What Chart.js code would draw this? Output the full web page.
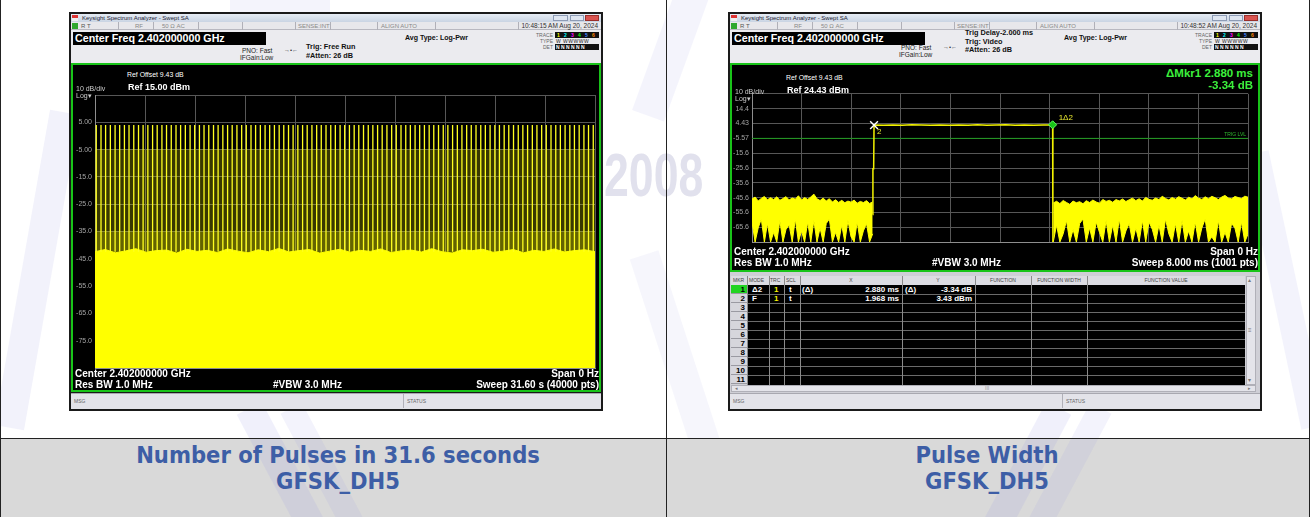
<!DOCTYPE html>
<html>
<head>
<meta charset="utf-8">
<title>GFSK_DH5 pulse captures</title>
<script src="https://cdn.jsdelivr.net/npm/chart.js@4.4.1/dist/chart.umd.min.js"></script>
<style>
  html, body { margin: 0; padding: 0; }
  body { width: 1310px; height: 517px; position: relative; overflow: hidden; background: #fff;
         font-family: "Liberation Sans", Arial, sans-serif; }
  .abs { position: absolute; white-space: nowrap; }
  .box { position: absolute; box-sizing: border-box; }
  canvas { position: absolute; }
  .cap { position: absolute; text-align: center; font-family: "DejaVu Sans Condensed", "Liberation Sans Narrow", sans-serif;
         font-weight: bold; font-size: 23.5px; line-height: 26px; color: #3d5ea6; }
</style>
</head>
<body>
<script>
// ---------- left capture: number of pulses in 31.6 s ----------
var sweepL = 31.6;
var xTicksL = [0, 3.16, 6.32, 9.48, 12.64, 15.8, 18.96, 22.12, 25.28, 28.44, 31.6];
var yTicksL = [-85, -75, -65, -55, -45, -35, -25, -15, -5, 5, 15];
var yLabelsL = ['', '-75.0', '-65.0', '-55.0', '-45.0', '-35.0', '-25.0', '-15.0', '-5.00', '5.00', ''];
var pulseTimesL = [
  0.08, 0.38, 0.67, 0.97, 1.27, 1.56, 1.86, 2.15, 2.45, 2.75,
  3.04, 3.34, 3.64, 3.93, 4.23, 4.52, 4.82, 5.12, 5.41, 5.71,
  6.01, 6.30, 6.60, 6.89, 7.19, 7.49, 7.78, 8.08, 8.38, 8.67,
  8.97, 9.27, 9.56, 9.86, 10.15, 10.45, 10.75, 11.04, 11.34, 11.64,
  11.93, 12.23, 12.52, 12.82, 13.12, 13.41, 13.71, 14.01, 14.30, 14.60,
  14.90, 15.19, 15.49, 15.78, 16.08, 16.38, 16.67, 16.97, 17.27, 17.56,
  17.86, 18.15, 18.45, 18.75, 19.04, 19.34, 19.64, 19.93, 20.23, 20.52,
  20.82, 21.12, 21.41, 21.71, 22.01, 22.30, 22.60, 22.90, 23.19, 23.49,
  23.78, 24.08, 24.38, 24.67, 24.97, 25.27, 25.56, 25.86, 26.15, 26.45,
  26.75, 27.04, 27.34, 27.64, 27.93, 28.23, 28.52, 28.82, 29.12, 29.41,
  29.71, 30.01, 30.30, 30.60, 30.90, 31.19, 31.49
];
var pulsePeakL = 4.0;
var floorL = [
  -42.4, -41.6, -42.8, -42.1, -41.3, -42.6, -42.0, -41.8, -42.9, -41.5,
  -42.3, -41.9, -42.7, -41.4, -42.2, -42.8, -41.7, -42.4, -41.2, -42.5,
  -42.0, -41.6, -42.9, -42.2, -41.5, -42.6, -41.9, -42.3, -41.4, -42.7,
  -42.1, -41.8, -42.5, -41.3, -42.4, -42.9, -41.7, -42.0, -41.5, -42.6,
  -42.2, -41.6, -42.8, -41.9, -42.3, -41.4, -42.5, -42.0, -41.7, -42.4
];
var denseTopL = -35;   // band of densely packed sub-peaks
var hazeTopL = -5;     // upper edge of the olive haze between pulses

// ---------- right capture: pulse width, 8 ms sweep ----------
var sweepR = 8.0;
var xTicksR = [0, 0.8, 1.6, 2.4, 3.2, 4.0, 4.8, 5.6, 6.4, 7.2, 8.0];
var yTicksR = [-75.57, -65.57, -55.57, -45.57, -35.57, -25.57, -15.57, -5.57, 4.43, 14.43, 24.43];
var yLabelsR = ['', '-65.6', '-55.6', '-45.6', '-35.6', '-25.6', '-15.6', '-5.57', '4.43', '14.4', ''];
var noise1Span = [0, 1.946];
var noise1Upper = [
  -46.5, -45.2, -47.8, -46.1, -44.8, -47.0, -45.6, -46.9, -45.0, -47.4,
  -46.2, -44.9, -47.1, -45.8, -46.6, -44.3, -47.2, -45.5, -46.8, -45.1,
  -43.2, -46.4, -47.5, -45.9, -47.8, -46.3, -48.5, -47.0, -48.8, -47.4,
  -49.0, -47.9, -48.6, -47.2, -49.3, -48.1, -48.9, -47.6, -49.5, -48.4
];
var noise1Lower = [
  -62, -75.5, -66, -60, -75.5, -63, -75.5, -69, -75.5, -61,
  -75.5, -67, -64, -75.5, -60, -75.5, -68, -75.5, -62, -75.5,
  -61, -75.5, -66, -75.5, -63, -60, -75.5, -69, -75.5, -64,
  -75.5, -61, -72, -75.5, -62, -75.5, -68, -63, -75.5, -70
];
var noise2Span = [4.858, 8.0];
var noise2Upper = [
  -49.2, -48.0, -49.6, -47.5, -48.8, -50.1, -47.9, -49.0, -48.3, -49.7,
  -47.6, -48.9, -47.2, -48.5, -49.3, -46.8, -48.1, -47.4, -48.7, -46.9,
  -47.8, -46.5, -48.2, -47.0, -45.9, -47.6, -46.3, -47.9, -45.4, -46.8,
  -47.3, -45.8, -46.9, -44.6, -46.2, -47.1, -45.5, -46.6, -44.9, -46.0,
  -47.2, -45.3, -46.4, -44.2, -45.9, -46.8, -45.0, -46.3, -44.7, -45.6,
  -46.9, -45.2, -44.1, -45.8, -46.4, -44.8, -45.5, -46.2, -44.6, -45.3
];
var noise2Lower = [
  -75.5, -64, -75.5, -70, -61, -75.5, -67, -75.5, -63, -60,
  -75.5, -66, -75.5, -62, -69, -75.5, -61, -75.5, -64, -75.5,
  -60, -75.5, -68, -63, -75.5, -66, -75.5, -61, -75.5, -62,
  -67, -75.5, -64, -75.5, -60, -70, -75.5, -63, -75.5, -61,
  -75.5, -68, -75.5, -62, -75.5, -66, -60, -75.5, -72, -75.5,
  -61, -75.5, -69, -75.5, -63, -66, -75.5, -62, -75.5, -70
];
var riseTimesR = [1.946, 1.950, 1.962];
var riseLevelsR = [-57, -26, -26];
var pulseSpanR = [1.968, 4.848];
var pulseTopR = [3.43, 3.2, 3.5, 3.3, 3.6, 3.4, 3.25, 3.5, 3.35, 3.45, 3.2, 3.55, 3.3, 3.4, 3.6, 3.3, 3.45, 3.25, 3.5, 3.4];
var fallTimesR = [4.852];
var fallLevelsR = [-75.57];
var trigLevelR = -5.6;
var mkr2 = { x: 1.968, y: 3.43 };
var mkr1 = { x: 4.848, y: 3.6 };
var mkrRows = [
  ['1', '\u03942', '1', 't', '(\u0394)', '2.880 ms', '(\u0394)', '-3.34 dB'],
  ['2', 'F', '1', 't', '', '1.968 ms', '', '3.43 dBm']
];

// ---------- small DOM helpers ----------
function rect(x, y, w, h, css) {
  var d = document.createElement('div');
  d.className = 'box';
  d.style.cssText = 'left:' + x + 'px;top:' + y + 'px;width:' + w + 'px;height:' + h + 'px;' + (css || '');
  document.body.appendChild(d);
  return d;
}
function text(x, cy, s, size, css, align) {
  var d = document.createElement('div');
  d.className = 'abs';
  d.textContent = s;
  var pos = 'left:' + x + 'px;';
  if (align === 'right') pos = 'right:' + (1310 - x) + 'px;';
  if (align === 'center') pos = 'left:' + (x - 150) + 'px;width:300px;text-align:center;';
  d.style.cssText = pos + 'top:' + (cy - size / 2) + 'px;font-size:' + size + 'px;line-height:' + size + 'px;' + (css || '');
  document.body.appendChild(d);
  return d;
}
function canvas(x, y, w, h) {
  var c = document.createElement('canvas');
  c.width = w; c.height = h;
  c.style.left = x + 'px'; c.style.top = y + 'px';
  document.body.appendChild(c);
  return c;
}

// ---------- watermark ----------
function stripe(x, y, w, h, deg, a) {
  rect(x, y, w, h, 'background:rgba(150,150,225,' + a + ');transform:rotate(' + deg + 'deg);');
}
stripe(22, 110, 30, 320, 10, 0.12);
stripe(1272, 150, 26, 280, -12, 0.11);
stripe(655, -20, 34, 140, 20, 0.1);
stripe(660, 250, 30, 200, -18, 0.09);
stripe(230, -6, 100, 20, 0, 0.1);

// ---------- table cells ----------
rect(0, 438, 1310, 79, 'background:#d9d9d9;');
stripe(268, 400, 28, 140, -28, 0.14);
stripe(312, 400, 24, 140, -28, 0.11);
stripe(1012, 400, 28, 140, 28, 0.14);
stripe(1056, 400, 24, 140, 28, 0.11);
text(604, 175, '2008', 62, 'font-weight:bold;color:rgba(205,205,225,0.6);transform:scaleX(0.72);transform-origin:left center;');
rect(0, 0, 1, 517, 'background:#222;');
rect(1309, 0, 1, 517, 'background:#222;');
rect(666, 0, 1, 517, 'background:#222;');
rect(0, 438, 1310, 1, 'background:#222;');

// ---------- analyser window chrome ----------
function chrome(px, o) {
  rect(px - 1, 12, 534, 399, 'background:#1a1a1a;');
  rect(px + 1, 14, 530, 8, 'background:linear-gradient(#e6ecf4,#c9d4e3);');
  rect(px + 2, 15, 6, 6, 'background:linear-gradient(#d33 50%,#eee 50%);');
  text(px + 12, 18, 'Keysight Spectrum Analyzer - Swept SA', 6, 'color:#223;');
  rect(px + 483, 15, 15, 6, 'background:#dfe6f1;border:1px solid #8d9bb5;');
  rect(px + 500, 15, 14, 6, 'background:#dfe6f1;border:1px solid #8d9bb5;');
  rect(px + 515, 15, 14, 6, 'background:#d9534f;border:1px solid #9a2f2b;');
  // status row
  rect(px + 1, 22, 530, 8, 'background:#e7e7eb;border-bottom:1px solid #b8b8c0;');
  rect(px + 2, 23, 6, 6, 'background:#2fa82f;');
  [48, 83, 128, 172, 225, 260, 307, 365, 448].forEach(function (sx) {
    rect(px + sx, 22, 1, 8, 'background:#b0b0b8;');
  });
  text(px + 11, 26, 'R   T', 6, 'color:#555;');
  text(px + 65, 26, 'RF', 6, 'color:#888;');
  text(px + 92, 26, '50 \u03A9    AC', 6, 'color:#888;');
  text(px + 228, 26, 'SENSE:INT', 6, 'color:#888;');
  text(px + 311, 26, 'ALIGN AUTO', 6, 'color:#888;');
  text(px + 528, 26, o.time, 6.5, 'color:#333;', 'right');
  // header
  rect(px + 1, 30, 530, 33, 'background:#ebebef;');
  rect(px + 3, 32, 193, 12.5, 'background:#000;');
  text(px + 5, 38.5, 'Center Freq 2.402000000 GHz', 10.7, 'color:#fff;font-weight:bold;');
  text(px + 335, 37, 'Avg Type: Log-Pwr', 7, 'color:#111;font-weight:bold;');
  o.trig.forEach(function (t) { text(px + 236, t[0], t[1], 7.3, 'color:#111;font-weight:bold;'); });
  text(px + 172, o.pno[0], 'PNO: Fast', 6.5, 'color:#222;');
  text(px + 170, o.pno[1], 'IFGain:Low', 6.5, 'color:#222;');
  text(px + 214, o.pno[0] - 1, '\u2192\u2022\u2190', 6, 'color:#333;');
  text(px + 483, 35, 'TRACE', 5, 'color:#666;', 'right');
  text(px + 483, 41, 'TYPE', 5, 'color:#666;', 'right');
  text(px + 483, 47, 'DET', 5, 'color:#666;', 'right');
  rect(px + 485, 32, 44, 6, 'background:#111;');
  var tc = ['#ff0', '#0ff', '#f0f', '#0f0', '#48f', '#f80'];
  tc.forEach(function (c, i) { text(px + 487 + i * 7, 35, String(i + 1), 5, 'color:' + c + ';font-weight:bold;'); });
  text(px + 486, 41, 'W WWWWW', 5, 'color:#222;letter-spacing:0.5px;');
  rect(px + 485, 44, 44, 6, 'background:#111;');
  text(px + 486, 47, 'N N N N N N', 5, 'color:#fff;font-weight:bold;');
  // graph region
  rect(px + 1, 63, 530, o.graphBottom - 63, 'background:#000;border:2px solid #19c419;');
  // message bar
  rect(px + 1, 393, 530, 16, 'background:#e3e3e9;border-top:1px solid #a8a8b0;');
  text(px + 4, 401, 'MSG', 5, 'color:#666;');
  rect(px + 333, 394, 1, 14, 'background:#b0b0b8;');
  text(px + 337, 401, 'STATUS', 5, 'color:#666;');
}

chrome(70, {
  time: '10:48:15 AM Aug 20, 2024',
  trig: [[47, 'Trig: Free Run'], [56, '#Atten: 26 dB']],
  pno: [51, 58],
  graphBottom: 392
});
chrome(729, {
  time: '10:48:52 AM Aug 20, 2024',
  trig: [[33, 'Trig Delay-2.000 ms'], [41.5, 'Trig: Video'], [50, '#Atten: 26 dB']],
  pno: [48, 55.5],
  graphBottom: 272
});

// ---------- marker table (right window) ----------
rect(730, 272, 530, 121, 'background:#cfcfd6;');
rect(731, 276, 514, 9, 'background:#dcdce2;');
var colX = [746.7, 768.7, 784.2, 799.7, 902.3, 974.7, 1030.8, 1086.6];
var heads = [[733, 'MKR'], [749, 'MODE'], [770, 'TRC'], [786, 'SCL'], [851, 'X', 'c'], [938, 'Y', 'c'],
             [1003, 'FUNCTION', 'c'], [1059, 'FUNCTION WIDTH', 'c'], [1166, 'FUNCTION VALUE', 'c']];
heads.forEach(function (h) { text(h[0], 280.5, h[1], 5, 'color:#444;', h[2] ? 'center' : null); });
rect(746.5, 285, 498.5, 100, 'background:#000;');
for (var r = 0; r < 11; r++) {
  var ry = 285 + r * 9;
  rect(731, ry, 15.5, 9, 'background:' + (r === 0 ? '#22d422' : '#d6d6dc') + ';border-bottom:1px solid #9a9aa2;');
  text(745, ry + 4.7, String(r + 1), 8, 'color:#000;font-weight:bold;', 'right');
  if (r > 0) rect(746.5, ry, 498.5, 1, 'background:#6a6a6a;');
}
colX.forEach(function (cx) {
  rect(cx, 276, 1, 109, 'background:#8a8a8a;');
});
mkrRows.forEach(function (row, i) {
  var cy = 289.7 + i * 9;
  var w = 'color:#fff;font-weight:bold;';
  text(752, cy, row[1], 8, w);
  text(774, cy, row[2], 8, 'color:#f4f400;font-weight:bold;');
  text(789, cy, row[3], 8, w);
  text(802, cy, row[4], 8, w);
  text(899, cy, row[5], 8, w, 'right');
  text(905, cy, row[6], 8, w);
  text(972, cy, row[7], 8, w, 'right');
});
rect(1246, 276, 10, 109, 'background:#e4e4ea;border:1px solid #b0b0b8;');
text(1248, 280, '\u25B4', 6, 'color:#777;');
text(1248, 330, '\u2261', 6, 'color:#777;');
text(1248, 380, '\u25BE', 6, 'color:#777;');
rect(731, 385, 525, 7, 'background:#e4e4ea;border:1px solid #b0b0b8;');
text(735, 388.5, '\u25C2', 5, 'color:#777;');
text(985, 388.5, 'III', 5, 'color:#999;');
text(1248, 388.5, '\u25B8', 5, 'color:#777;');

// ---------- charts ----------
Chart.defaults.font.family = '"Liberation Sans", Arial, sans-serif';

function spread(t0, t1, values) {
  var n = values.length;
  return values.map(function (v, i) { return { x: t0 + (t1 - t0) * i / (n - 1), y: v }; });
}
function level(t0, t1, v) {
  return [{ x: t0, y: v }, { x: t1, y: v }];
}
function scopeScales(xTicks, yTicks, yLabels, yWidth) {
  var grid = { color: '#575757', lineWidth: 1, drawTicks: false };
  return {
    x: {
      type: 'linear', min: xTicks[0], max: xTicks[xTicks.length - 1],
      grid: grid, border: { color: '#8e8e8e' }, ticks: { display: false },
      afterBuildTicks: function (s) { s.ticks = xTicks.map(function (v) { return { value: v }; }); },
      afterFit: function (s) { s.height = 0; s.paddingLeft = 0; s.paddingRight = 0; }
    },
    y: {
      type: 'linear', min: yTicks[0], max: yTicks[yTicks.length - 1],
      grid: grid, border: { color: '#8e8e8e' },
      ticks: { color: '#a4a4a4', font: { size: 7 }, padding: 3, autoSkip: false,
               callback: function (v, i) { return yLabels[i]; } },
      afterBuildTicks: function (s) { s.ticks = yTicks.map(function (v) { return { value: v }; }); },
      afterFit: function (s) { s.width = yWidth; s.paddingTop = 0; s.paddingBottom = 0; }
    }
  };
}
function baseOptions(scales, pad) {
  return {
    responsive: false, animation: false, events: [],
    layout: { padding: pad },
    plugins: { legend: { display: false }, tooltip: { enabled: false } },
    elements: { point: { radius: 0 }, line: { tension: 0 } },
    scales: scales
  };
}

// left: pulse train
var pulseSeries = [];
pulseTimesL.forEach(function (t) {
  pulseSeries.push({ x: t, y: floorL[0] }, { x: t, y: pulsePeakL }, { x: t, y: null });
});
new Chart(canvas(72, 88, 526, 284), {
  type: 'line',
  data: {
    datasets: [
      { data: pulseSeries, borderColor: '#ffff20', borderWidth: 1.3, fill: false, spanGaps: false, order: 1 },
      { data: spread(0, sweepL, floorL), borderColor: '#ffff00', backgroundColor: '#ffff00', borderWidth: 1, fill: 'start', order: 2 },
      { data: level(0, sweepL, denseTopL), borderWidth: 0, backgroundColor: 'rgba(255,255,0,0.22)', fill: 'start', order: 3 },
      { data: level(0, sweepL, hazeTopL), borderWidth: 0, backgroundColor: 'rgba(255,255,0,0.22)', fill: 'start', order: 4 }
    ]
  },
  options: baseOptions(scopeScales(xTicksL, yTicksL, yLabelsL, 23), { top: 7, right: 3, bottom: 4, left: 0 })
});

// right: single pulse with markers
var pulseR = [];
riseTimesR.forEach(function (t, i) { pulseR.push({ x: t, y: riseLevelsR[i] }); });
pulseR = pulseR.concat(spread(pulseSpanR[0], pulseSpanR[1], pulseTopR));
fallTimesR.forEach(function (t, i) { pulseR.push({ x: t, y: fallLevelsR[i] }); });

var markerText = {
  id: 'markerText',
  afterDatasetsDraw: function (chart) {
    var ctx = chart.ctx, x = chart.scales.x, y = chart.scales.y, a = chart.chartArea;
    ctx.save();
    ctx.textBaseline = 'middle';
    ctx.font = '8px "Liberation Sans"';
    ctx.fillStyle = '#e8e830';
    ctx.fillText('2', x.getPixelForValue(mkr2.x) + 3, y.getPixelForValue(mkr2.y) + 7);
    ctx.fillText('1\u03942', x.getPixelForValue(mkr1.x) + 6, y.getPixelForValue(mkr1.y) - 7);
    ctx.font = '5px "Liberation Sans"';
    ctx.fillStyle = '#2fb82f';
    ctx.textAlign = 'right';
    ctx.fillText('TRIG LVL', a.right - 2, y.getPixelForValue(trigLevelR) - 4);
    ctx.restore();
  }
};

new Chart(canvas(730, 87, 525, 162), {
  type: 'line',
  data: {
    datasets: [
      { data: spread(noise1Span[0], noise1Span[1], noise1Upper), borderColor: '#ffff00', backgroundColor: '#ffff00', borderWidth: 1, fill: '+1', order: 3 },
      { data: spread(noise1Span[0], noise1Span[1], noise1Lower), borderColor: '#ffff00', borderWidth: 1, fill: false, order: 3 },
      { data: spread(noise2Span[0], noise2Span[1], noise2Upper), borderColor: '#ffff00', backgroundColor: '#ffff00', borderWidth: 1, fill: '+1', order: 3 },
      { data: spread(noise2Span[0], noise2Span[1], noise2Lower), borderColor: '#ffff00', borderWidth: 1, fill: false, order: 3 },
      { data: pulseR, borderColor: '#f2f200', borderWidth: 1.5, fill: false, order: 2 },
      { data: level(0, sweepR, trigLevelR), borderColor: '#1f9a1f', borderWidth: 1, fill: false, order: 4 },
      { type: 'scatter', data: [mkr2], pointStyle: 'crossRot', pointRadius: 5.5, borderColor: '#ffffff', borderWidth: 1.4, order: 1 },
      { type: 'scatter', data: [mkr1], pointStyle: 'rectRot', pointRadius: 4, backgroundColor: '#18c418', borderColor: '#5cff5c', borderWidth: 1, order: 1 }
    ]
  },
  options: baseOptions(scopeScales(xTicksR, yTicksR, yLabelsR, 22), { top: 6, right: 3, bottom: 4, left: 0 }),
  plugins: [markerText]
});

// ---------- texts inside the graph regions ----------
function graphTexts(px, o) {
  text(px + 57, o.top, 'Ref Offset 9.43 dB', 6.9, 'color:#fff;');
  text(px + 6, o.top + 13, '10 dB/div', 7, 'color:#ccc;');
  text(px + 58, o.top + 12, o.ref, 9, 'color:#fff;font-weight:bold;');
  text(px + 6, o.top + 20, 'Log\u25BE', 7, 'color:#ccc;');
  text(px + 5, o.bottom, 'Center 2.402000000 GHz', 10, 'color:#fff;font-weight:bold;');
  text(px + 529, o.bottom, 'Span 0 Hz', 10, 'color:#fff;font-weight:bold;', 'right');
  text(px + 5, o.bottom + 10.5, 'Res BW 1.0 MHz', 10, 'color:#fff;font-weight:bold;');
  text(px + 203, o.bottom + 10.5, '#VBW 3.0 MHz', 10, 'color:#fff;font-weight:bold;');
  text(px + 529, o.bottom + 10.5, o.sweep, 10, 'color:#fff;font-weight:bold;', 'right');
}
graphTexts(70, { top: 75, ref: 'Ref 15.00 dBm', bottom: 374, sweep: 'Sweep  31.60 s (40000 pts)' });
graphTexts(729, { top: 78, ref: 'Ref 24.43 dBm', bottom: 252, sweep: 'Sweep  8.000 ms (1001 pts)' });
text(1253, 74, '\u0394Mkr1 2.880 ms', 11.5, 'color:#3cf03c;font-weight:bold;', 'right');
text(1253, 86, '-3.34 dB', 11.5, 'color:#3cf03c;font-weight:bold;', 'right');

// ---------- captions ----------
function caption(cx, lines) {
  var d = document.createElement('div');
  d.className = 'cap';
  d.style.left = (cx - 300) + 'px';
  d.style.width = '600px';
  d.style.top = '442px';
  d.innerHTML = lines.join('<br>');
  document.body.appendChild(d);
}
caption(338, ['Number of Pulses in 31.6 seconds', 'GFSK_DH5']);
caption(987, ['Pulse Width', 'GFSK_DH5']);
</script>
</body>
</html>
